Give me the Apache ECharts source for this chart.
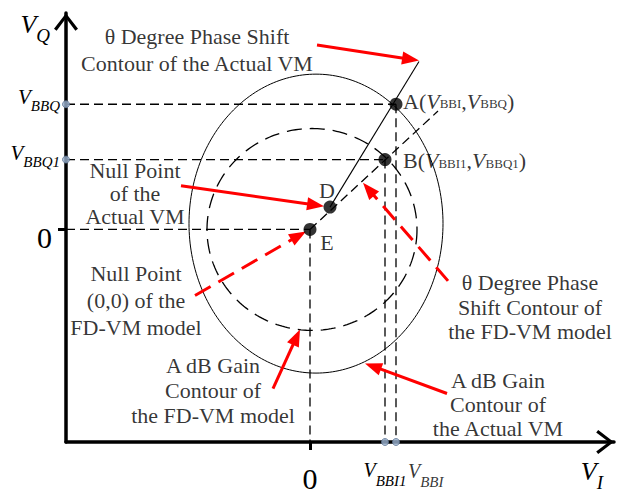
<!DOCTYPE html>
<html>
<head>
<meta charset="utf-8">
<title>VM gain and phase contours</title>
<script src="https://cdn.jsdelivr.net/npm/echarts@6/dist/echarts.min.js"></script>
<style>
  html, body { margin: 0; padding: 0; background: #fff; }
  #chart { width: 619px; height: 493px; }
</style>
</head>
<body>
<div id="chart"></div>
<script>
// ---- I/Q plane values (arbitrary units, origin at the FD-VM null point) ----
const pointNames = ['A', 'B', 'D', 'E'];
const pointI = [86, 75, 20, 0];
const pointQ = [129, 72, 23, 0];

// axis marks
const iTicks = [0, 75, 86];
const iTickLabels = ['0', 'V_BBI1', 'V_BBI'];
const qTicks = [0, 72, 129];
const qTickLabels = ['0', 'V_BBQ1', 'V_BBQ'];

// gain contours: [centre I, centre Q, radius I, radius Q]
const gainContourActual = [[6, 6, 127, 154]];
const gainContourModel = [[2, 0, 105, 104]];

// phase contours: [start I, start Q, end I, end Q]
const phaseContourActual = [[20, 23, 109, 173]];
const phaseContourModel = [[0, 0, 128, 122]];

// callout arrows: [tail I, tail Q, tip I, tip Q]
const calloutSolid = [
  [7, 190, 109, 174],
  [-129, 45, 14, 24],
  [-37, -164, -10, -103],
  [137, -169, 55, -138]
];
const calloutDashed = [
  [-115, -68, -4, -2],
  [138, -53, 53, 48]
];

const noteTexts = [
  'θ Degree Phase Shift\nContour of the Actual VM',
  'Null Point\nof the\nActual VM',
  'Null Point\n(0,0) of the\nFD-VM model',
  'A dB Gain\nContour of\nthe FD-VM model',
  'θ Degree Phase\nShift Contour of\nthe FD-VM model',
  'A dB Gain\nContour of\nthe Actual VM'
];

const I_MIN = -244, I_MAX = 304, Q_MIN = -219, Q_MAX = 223;
const SERIF = 'Liberation Serif';

function subLabel(label) {
  const parts = label.split('_');
  return parts.length > 1 ? '{v|' + parts[0] + '}{s|' + parts[1] + '}' : '{z|' + parts[0] + '}';
}

// open chevron used as the axis arrow head (points up before rotation)
const chevron = 'path://M12,0 L24,15.6 L21.4,17.6 L12,5 L2.6,17.6 L0,15.6 Z';

function ellipseSeries(data, dash, width) {
  return {
    type: 'custom',
    data: data,
    silent: true,
    clip: false,
    renderItem: function (params, api) {
      const c = api.coord([api.value(0), api.value(1)]);
      const s = api.size([api.value(2), api.value(3)]);
      const pts = [];
      for (let k = 0; k <= 240; k++) {
        const t = k / 240 * Math.PI * 2;
        pts.push([c[0] + s[0] * Math.cos(t), c[1] + s[1] * Math.sin(t)]);
      }
      return {
        type: 'polyline',
        shape: { points: pts },
        style: { fill: null, stroke: '#000', lineWidth: width, lineDash: dash }
      };
    }
  };
}

function segmentSeries(data, dash, width) {
  return {
    type: 'custom',
    data: data,
    silent: true,
    clip: false,
    renderItem: function (params, api) {
      const p1 = api.coord([api.value(0), api.value(1)]);
      const p2 = api.coord([api.value(2), api.value(3)]);
      return {
        type: 'line',
        shape: { x1: p1[0], y1: p1[1], x2: p2[0], y2: p2[1] },
        style: { stroke: '#000', lineWidth: width, lineDash: dash }
      };
    }
  };
}

function arrowSeries(data, dash) {
  return {
    type: 'custom',
    data: data,
    silent: true,
    clip: false,
    z: 5,
    renderItem: function (params, api) {
      const p1 = api.coord([api.value(0), api.value(1)]);
      const p2 = api.coord([api.value(2), api.value(3)]);
      const dx = p2[0] - p1[0], dy = p2[1] - p1[1];
      const len = Math.hypot(dx, dy);
      const ux = dx / len, uy = dy / len;
      const headL = 17, headW = 6.5;
      const bx = p2[0] - ux * headL, by = p2[1] - uy * headL;
      return {
        type: 'group',
        children: [
          {
            type: 'line',
            shape: { x1: p1[0], y1: p1[1], x2: bx + ux * 3, y2: by + uy * 3 },
            style: { stroke: '#ff0000', lineWidth: 3, lineDash: dash }
          },
          {
            type: 'polygon',
            shape: { points: [[p2[0], p2[1]], [bx - uy * headW, by + ux * headW], [bx + uy * headW, by - ux * headW]] },
            style: { fill: '#ff0000' }
          }
        ]
      };
    }
  };
}

// dashed projection lines from the working points to both axes
const guideSegments = [];
[0, 1, 3].forEach(function (k) {
  const i = pointI[k], q = pointQ[k];
  guideSegments.push([I_MIN, q, i, q]);
  guideSegments.push([i, q, i, Q_MIN]);
});

const noteStyle = { fontFamily: SERIF, fontSize: 22, color: '#000', align: 'center', verticalAlign: 'middle' };
const noteAnchors = [[-113, 185], [-175, 37], [-174, -73], [-97, -166], [220, -80], [188, -180]];
const noteLineHeights = [27, 23, 27, 25, 24.5, 24];

const coordRich = {
  n: { fontFamily: SERIF, fontSize: 22, color: '#000', lineHeight: 22, verticalAlign: 'bottom' },
  v: { fontFamily: SERIF, fontSize: 22, fontStyle: 'italic', color: '#000', lineHeight: 22, verticalAlign: 'bottom' },
  s: { fontFamily: SERIF, fontSize: 13, color: '#000', lineHeight: 13, padding: [0, 0, 2, 0], verticalAlign: 'bottom' }
};

const iRich = {
  v: { fontFamily: SERIF, fontSize: 20, fontStyle: 'italic', color: '#000', lineHeight: 20, verticalAlign: 'top' },
  s: { fontFamily: SERIF, fontSize: 15, fontStyle: 'italic', color: '#000', lineHeight: 15, padding: [13, 0, 0, 0], verticalAlign: 'top' },
  z: { fontFamily: SERIF, fontSize: 30, color: '#000', lineHeight: 30, padding: [6, 0, 0, 0] }
};

const option = {
  backgroundColor: '#fff',
  animation: false,
  grid: { left: 66, right: 5, top: 13, bottom: 38, containLabel: false },
  xAxis: {
    type: 'value',
    min: I_MIN,
    max: I_MAX,
    name: '{v|V}{s|I}',
    nameLocation: 'end',
    nameGap: 0,
    nameTextStyle: {
      align: 'right',
      verticalAlign: 'top',
      padding: [16, 11, 0, 0],
      rich: {
        v: { fontFamily: SERIF, fontSize: 26, fontStyle: 'italic', color: '#000', lineHeight: 26, verticalAlign: 'top' },
        s: { fontFamily: SERIF, fontSize: 19, fontStyle: 'italic', color: '#000', lineHeight: 19, padding: [15, 0, 0, 0], verticalAlign: 'top' }
      }
    },
    axisLine: {
      onZero: false,
      lineStyle: { color: '#000', width: 3.5 },
      symbol: ['none', chevron],
      symbolSize: [24, 18],
      symbolOffset: [0, -9]
    },
    axisTick: { show: true, customValues: [0], length: 8, lineStyle: { color: '#000', width: 3 } },
    splitLine: { show: false },
    axisLabel: {
      customValues: iTicks.slice(0, 2),
      margin: 18,
      hideOverlap: false,
      verticalAlign: 'top',
      formatter: function (v) {
        return subLabel(iTickLabels[iTicks.indexOf(v)]);
      },
      rich: iRich
    }
  },
  yAxis: {
    type: 'value',
    min: Q_MIN,
    max: Q_MAX,
    name: '{v|V}{s|Q}',
    nameLocation: 'end',
    nameGap: 0,
    nameTextStyle: {
      align: 'right',
      verticalAlign: 'top',
      padding: [-2, 16, 0, 0],
      rich: {
        v: { fontFamily: SERIF, fontSize: 26, fontStyle: 'italic', color: '#000', lineHeight: 26, verticalAlign: 'top' },
        s: { fontFamily: SERIF, fontSize: 19, fontStyle: 'italic', color: '#000', lineHeight: 19, padding: [15, 0, 0, 0], verticalAlign: 'top' }
      }
    },
    axisLine: {
      onZero: false,
      lineStyle: { color: '#000', width: 3.5 },
      symbol: ['none', chevron],
      symbolSize: [24, 18],
      symbolOffset: [0, -9]
    },
    axisTick: { show: true, customValues: [0], length: 8, lineStyle: { color: '#000', width: 3 } },
    splitLine: { show: false },
    axisLabel: {
      customValues: qTicks,
      margin: 6,
      padding: [0, 0, 14, 0],
      formatter: function (v) {
        return subLabel(qTickLabels[qTicks.indexOf(v)]);
      },
      rich: {
        v: { fontFamily: SERIF, fontSize: 21, fontStyle: 'italic', color: '#000', lineHeight: 21, verticalAlign: 'top' },
        s: { fontFamily: SERIF, fontSize: 15, fontStyle: 'italic', color: '#000', lineHeight: 15, padding: [12, 0, 0, 0], verticalAlign: 'top' },
        z: { fontFamily: SERIF, fontSize: 30, color: '#000', lineHeight: 30, padding: [30, 8, 0, 0] }
      }
    }
  },
  series: [
    ellipseSeries(gainContourActual, null, 1),
    ellipseSeries(gainContourModel, [15, 8], 1.3),
    segmentSeries(guideSegments, [9, 5], 1.3),
    segmentSeries(phaseContourModel, [9, 5], 1.3),
    segmentSeries(phaseContourActual, null, 1.1),
    arrowSeries(calloutSolid, null),
    arrowSeries(calloutDashed, [18, 9]),
    {
      // working points A, B, D, E
      type: 'scatter',
      symbol: 'circle',
      symbolSize: 13,
      z: 6,
      itemStyle: { color: '#000' },
      data: pointNames.map(function (n, k) { return { name: n, value: [pointI[k], pointQ[k]] }; }),
      label: { show: false }
    },
    {
      // markers where the working-point projections meet the axes
      type: 'scatter',
      symbol: 'circle',
      symbolSize: 7,
      z: 7,
      clip: false,
      itemStyle: { color: '#9bb3d1', borderColor: '#5f7594', borderWidth: 1 },
      data: [[I_MIN, qTicks[1]], [I_MIN, qTicks[2]], [iTicks[1], Q_MIN], [iTicks[2], Q_MIN]]
    },
    {
      // V_BBI mark label, set to the right of its projection line so it clears V_BBI1
      type: 'scatter',
      symbolSize: 0,
      z: 8,
      clip: false,
      silent: true,
      data: [{ value: [iTicks[2], Q_MIN] }],
      label: {
        show: true,
        position: 'inside',
        align: 'left',
        verticalAlign: 'top',
        offset: [12, 19],
        formatter: subLabel(iTickLabels[2]),
        rich: iRich
      }
    },
    {
      // point names and coordinates
      type: 'scatter',
      symbolSize: 0,
      z: 8,
      clip: false,
      silent: true,
      data: [
        { value: [93, 132], label: { formatter: '{n|A(}{v|V}{s|BBI}{n|,}{v|V}{s|BBQ}{n|)}', align: 'left' } },
        { value: [93, 71], label: { formatter: '{n|B(}{v|V}{s|BBI1}{n|,}{v|V}{s|BBQ1}{n|)}', align: 'left' } },
        { value: [17, 40], label: { formatter: '{n|D}' } },
        { value: [17, -13], label: { formatter: '{n|E}' } }
      ],
      label: { show: true, position: 'inside', align: 'center', verticalAlign: 'middle', rich: coordRich }
    },
    {
      // explanatory callouts
      type: 'scatter',
      symbolSize: 0,
      z: 8,
      clip: false,
      silent: true,
      data: noteTexts.map(function (t, k) {
        return { value: noteAnchors[k], label: { formatter: t, lineHeight: noteLineHeights[k] } };
      }),
      label: Object.assign({ show: true, position: 'inside' }, noteStyle)
    }
  ]
};

const chart = echarts.init(document.getElementById('chart'), null, { renderer: 'svg' });
chart.setOption(option);
</script>
</body>
</html>
